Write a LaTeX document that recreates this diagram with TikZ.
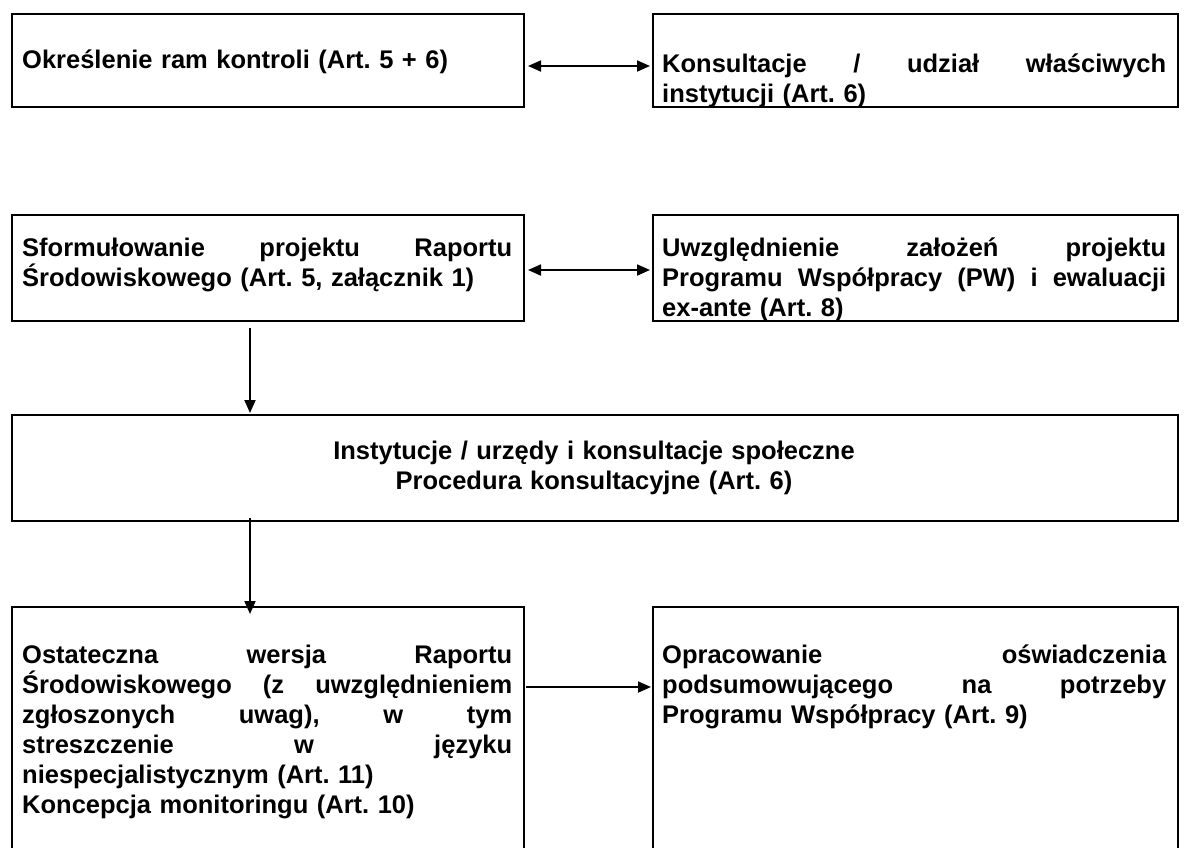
\documentclass[tikz,border=0pt]{standalone}
\usepackage{fontspec}
\setmainfont{Liberation Sans}
\usetikzlibrary{arrows.meta,calc}
\frenchspacing
\begin{document}
\begin{tikzpicture}[x=1pt,y=-1pt,
  box/.style={draw, line width=2pt, rectangle, anchor=north west, inner sep=0pt},
  txt/.style={inner sep=0pt, anchor=base west, font=\fontsize{25.5}{30}\selectfont\bfseries, align=left},
  ctxt/.style={inner sep=0pt, anchor=base, text width=1100pt, font=\fontsize{25.5}{30}\selectfont\bfseries, align=center},
  arr/.style={line width=1.8pt, -{Triangle[length=13pt,width=11pt]}},
  darr/.style={line width=1.8pt, {Triangle[length=13pt,width=11pt]}-{Triangle[length=13pt,width=11pt]}}]
\useasboundingbox (0,0) rectangle (1187,847);
\clip (0,0) rectangle (1187,847);

% boxes
\node[box, minimum width=512pt, minimum height=93pt] (b1) at (11,13) {};
\node[box, minimum width=525pt, minimum height=93pt] (b2) at (652,13) {};
\node[box, minimum width=512pt, minimum height=106pt] (b3) at (11,214) {};
\node[box, minimum width=525pt, minimum height=106pt] (b4) at (652,214) {};
\node[box, minimum width=1166pt, minimum height=106pt] (b5) at (11,414) {};
\node[box, minimum width=512pt, minimum height=280pt] (b6) at (11,606) {};
\node[box, minimum width=525pt, minimum height=280pt] (b7) at (652,606) {};

% texts
\node[txt, text width=490pt] (t1) at (22,68) {Określenie ram kontroli (Art. 5 + 6)};
\node[txt, text width=504pt] (t2) at (662,72) {Konsultacje \hfill / \hfill udział \hfill właściwych\\instytucji (Art. 6)};
\node[txt, text width=490pt] (t3) at (22,256) {Sformułowanie \hfill projektu \hfill Raportu\\Środowiskowego (Art. 5, załącznik 1)};
\node[txt, text width=504pt] (t4) at (662,256) {Uwzględnienie \hfill założeń \hfill projektu\\Programu \hfill Współpracy \hfill (PW) \hfill i \hfill ewaluacji\\ex-ante (Art. 8)};
\node[ctxt] (t5) at (594,459) {Instytucje / urzędy i konsultacje społeczne\\Procedura konsultacyjne (Art. 6)};
\node[txt, text width=490pt] (t6) at (22,663) {Ostateczna \hfill wersja \hfill Raportu\\Środowiskowego \hfill (z \hfill uwzględnieniem\\zgłoszonych \hfill uwag), \hfill w \hfill tym\\streszczenie \hfill w \hfill języku\\niespecjalistycznym (Art. 11)\\Koncepcja monitoringu (Art. 10)};
\node[txt, text width=504pt] (t7) at (662,663) {Opracowanie \hfill oświadczenia\\podsumowującego \hfill na \hfill potrzeby\\Programu Współpracy (Art. 9)};

% connectors
\draw[darr] ($(b1.north east)+(3,53)$) -- ($(b2.north west)+(-2,53)$);
\draw[darr] ($(b3.north east)+(3,56)$) -- ($(b4.north west)+(-2,56)$);
\draw[arr] ($(b3.south west)+(239,6)$) -- ($(b5.north west)+(239,-1)$);
\draw[arr] ($(b5.south west)+(239,-4)$) -- ($(b6.north west)+(239,8)$);
\draw[arr] ($(b6.north east)+(1,81)$) -- ($(b7.north west)+(-1,81)$);
\end{tikzpicture}
\end{document}
